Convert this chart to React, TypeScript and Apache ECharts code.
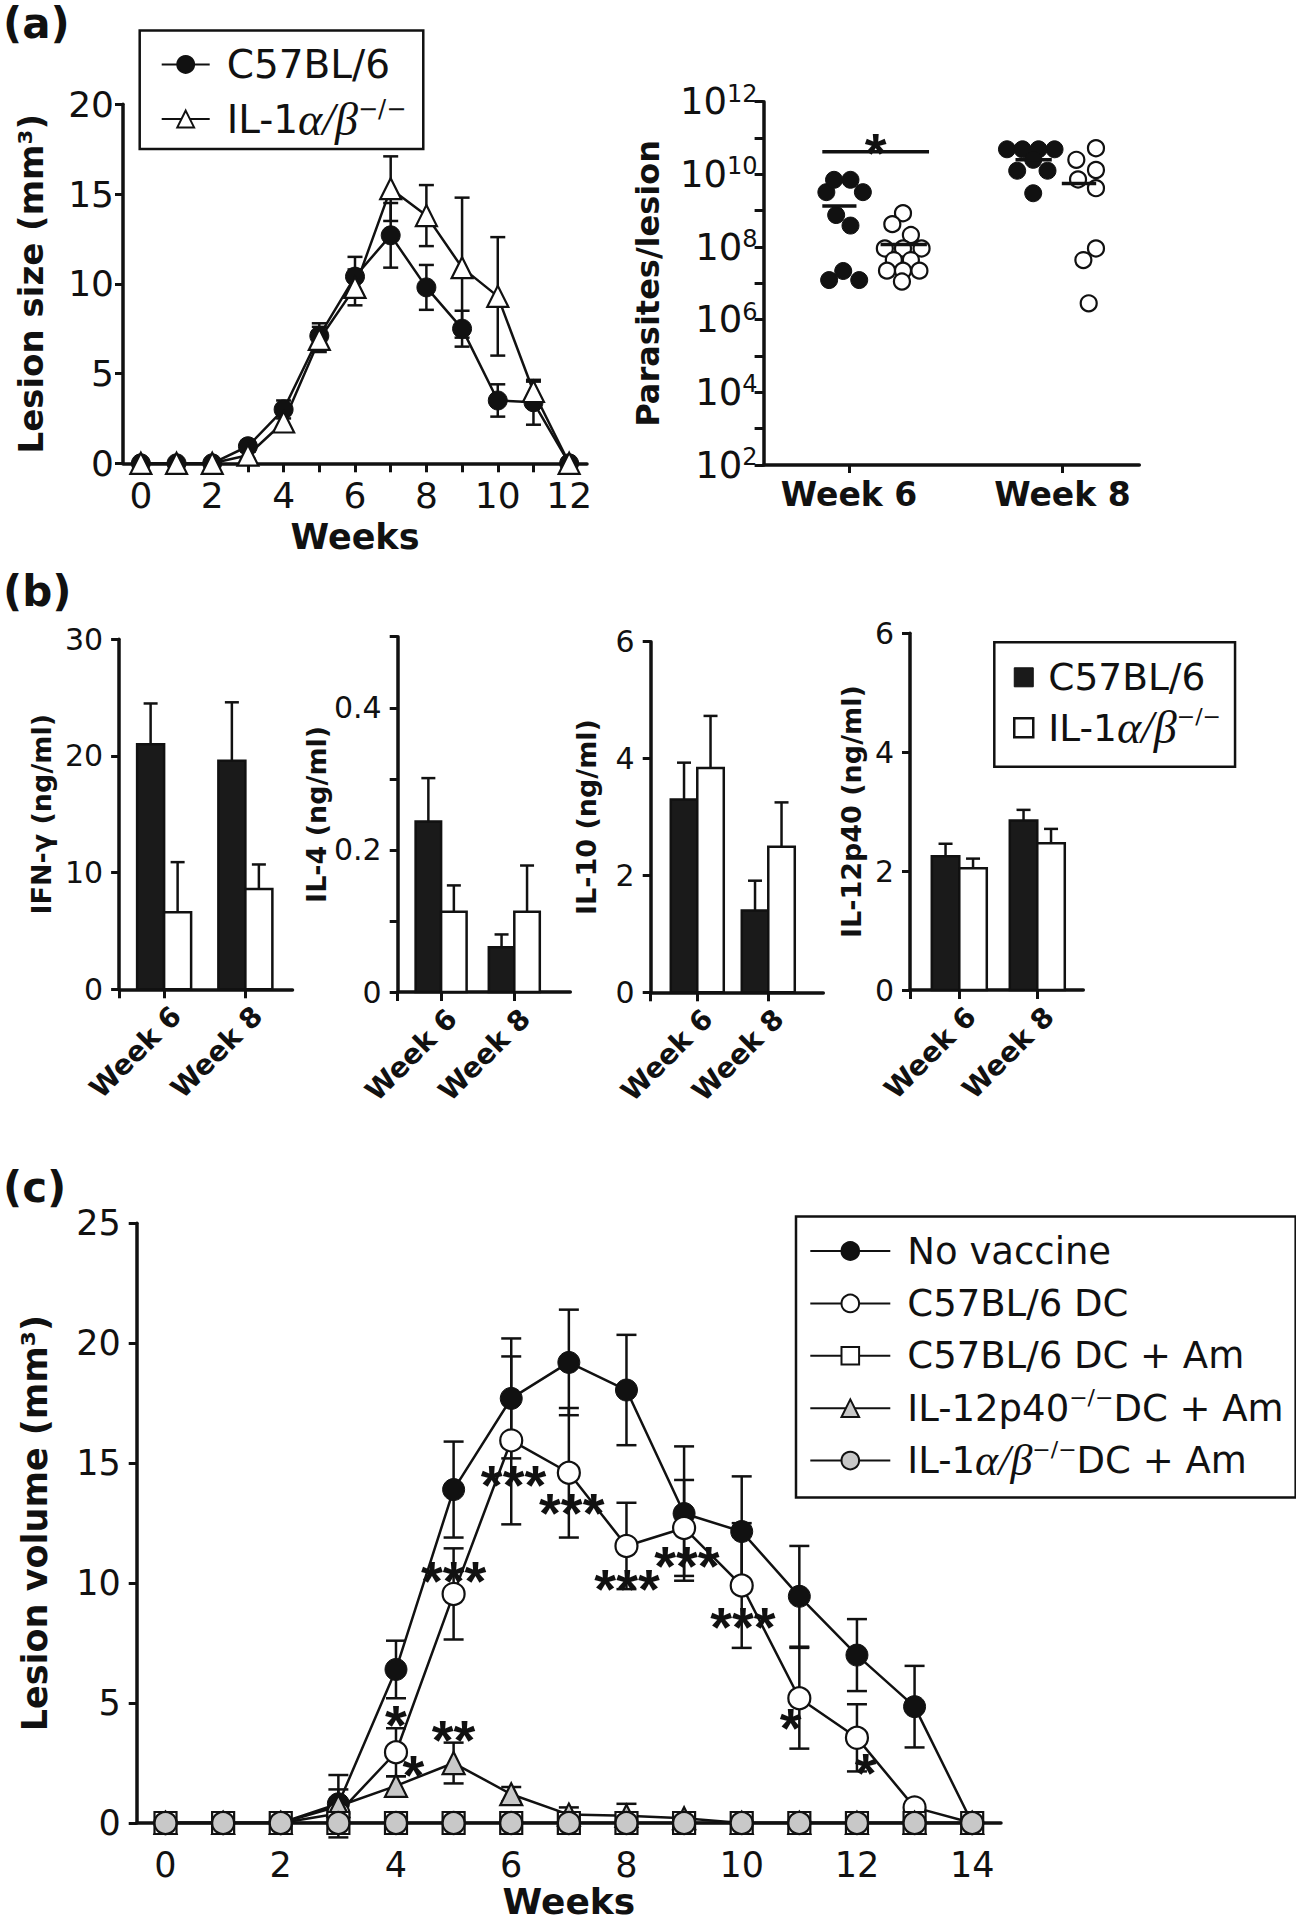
import React, { useEffect, useRef } from 'react';
import * as echarts from 'echarts';

const FONT = '"DejaVu Sans", "Liberation Sans", Arial, sans-serif';
const STAR_FONT = '"Liberation Sans", Arial, sans-serif';
const SERIF = '"Liberation Serif", "DejaVu Serif", serif';
const INK = '#111111';
const BAR_BLACK = '#1a1a1a';
const GRAY = '#c8c8c8';

// ---------- Panel (a) left: lesion size over weeks ----------
const weeksA = [0, 1, 2, 3, 4, 5, 6, 7, 8, 9, 10, 11, 12];
const weekLabelsA = [0, 2, 4, 6, 8, 10, 12];
const lesionC57 = [0, 0, 0, 0.95, 3.0, 7.1, 10.4, 12.7, 9.8, 7.5, 3.5, 3.4, 0];
const lesionC57Err = [0, 0, 0, 0.3, 0.5, 0.7, 1.1, 1.8, 1.25, 1.0, 0.9, 1.25, 0];
const lesionIL1 = [0, 0, 0, 0.45, 2.3, 6.9, 9.8, 15.3, 13.8, 10.9, 9.3, 4.0, 0];
const lesionIL1Err = [0, 0, 0, 0.2, 0.4, 0.7, 1.0, 1.8, 1.7, 3.9, 3.3, 0.55, 0];

// ---------- Panel (a) right: parasites / lesion (log10 values) ----------
const aRightCats = ['Week 6', 'Week 8'];
const logTickLabels = [2, 4, 6, 8, 10, 12];
const w6C57Log = [9.51, 9.85, 9.85, 9.51, 8.88, 8.59, 7.09, 7.34, 7.09];
const w6C57Jitter = [-0.106, -0.07, 0.007, 0.065, -0.06, 0.007, -0.093, -0.027, 0.048];
const w6IL1Log = [8.93, 8.63, 8.33, 7.96, 7.96, 7.96, 7.64, 7.64, 7.35, 7.35, 7.35, 7.05];
const w6IL1Jitter = [0.253, 0.203, 0.29, 0.168, 0.253, 0.34, 0.21, 0.29, 0.178, 0.253, 0.33, 0.248];
const w8C57Log = [10.69, 10.69, 10.69, 10.69, 10.4, 10.1, 10.1, 9.48];
const w8C57Jitter = [-0.26, -0.187, -0.112, -0.037, -0.137, -0.212, -0.07, -0.137];
const w8IL1Log = [10.72, 10.4, 10.12, 9.86, 9.62, 7.96, 7.64, 6.45];
const w8IL1Jitter = [0.157, 0.065, 0.157, 0.073, 0.157, 0.157, 0.098, 0.123];
const groupMeanLog = [9.13, 8.07, 10.4, 9.75];
const groupMeanFrom = [0.875, 1.148, 1.78, 1.997];
const groupMeanTo = [1.035, 1.365, 1.95, 2.158];
const sigLine = [0.875, 1.375, 10.62];
const sigStar = [1.125, 10.95];

// ---------- Panel (b): cytokines ----------
const bCats = ['Week 6', 'Week 8'];
const ifnC57 = [21.0, 19.6];
const ifnC57Err = [3.5, 5.0];
const ifnIL1 = [6.6, 8.6];
const ifnIL1Err = [4.3, 2.1];
const il4C57 = [0.24, 0.063];
const il4C57Err = [0.061, 0.018];
const il4IL1 = [0.113, 0.113];
const il4IL1Err = [0.037, 0.065];
const il10C57 = [3.3, 1.4];
const il10C57Err = [0.63, 0.51];
const il10IL1 = [3.84, 2.49];
const il10IL1Err = [0.89, 0.76];
const il12C57 = [2.25, 2.85];
const il12C57Err = [0.21, 0.18];
const il12IL1 = [2.05, 2.47];
const il12IL1Err = [0.16, 0.24];

// ---------- Panel (c): lesion volume after vaccination ----------
const weeksC = [0, 1, 2, 3, 4, 5, 6, 7, 8, 9, 10, 11, 12, 13, 14];
const weekLabelsC = [0, 2, 4, 6, 8, 10, 12, 14];
const noVaccine = [0, 0, 0, 0.8, 6.4, 13.9, 17.7, 19.2, 18.05, 12.9, 12.15, 9.45, 7.0, 4.85, 0];
const noVaccineErr = [0, 0, 0, 1.2, 1.2, 2.0, 2.5, 2.2, 2.3, 2.8, 2.3, 2.1, 1.5, 1.7, 0];
const c57DC = [0, 0, 0, 0.4, 2.95, 9.55, 15.95, 14.6, 11.55, 12.3, 9.9, 5.2, 3.55, 0.65, 0];
const c57DCErr = [0, 0, 0, 1.0, 1.0, 1.9, 3.5, 2.7, 1.8, 2.0, 2.6, 2.1, 1.4, 0, 0];
const c57DCAm = [0, 0, 0, 0, 0, 0, 0, 0, 0, 0, 0, 0, 0, 0, 0];
const il12DCAm = [0, 0, 0, 0.7, 1.55, 2.5, 1.2, 0.35, 0.3, 0.2, 0, 0, 0, 0, 0];
const il12DCAmErr = [0, 0, 0, 0, 0.4, 0.85, 0.3, 0.3, 0.5, 0.2, 0, 0, 0, 0, 0];
const il1DCAm = [0, 0, 0, 0, 0, 0, 0, 0, 0, 0, 0, 0, 0, 0, 0];
const starWeeks = [4, 4.3, 5, 5, 6.04, 7.05, 8.01, 9.05, 10.02, 10.85, 12.15];
const starLevels = [4.66, 2.58, 4.03, 10.66, 14.66, 13.49, 10.31, 11.28, 8.73, 4.52, 2.65];
const starTexts = ['*', '*', '**', '***', '***', '***', '***', '***', '***', '*', '*'];

// ---------- helpers ----------
const txt = { color: INK, fontFamily: FONT };
const lineSt = { color: INK, width: 3.5 };
const tickSt = { color: INK, width: 3 };

const legendNames: Record<string, string> = {
  'a-C57': 'C57BL/6',
  'a-IL1': 'IL-1{i|α/β}{s|−/−}',
  'b1-C57': 'C57BL/6',
  'b1-IL1': 'IL-1{i|α/β}{s|−/−}',
  'c-noVac': 'No vaccine',
  'c-c57DC': 'C57BL/6 DC',
  'c-c57Am': 'C57BL/6 DC + Am',
  'c-il12': 'IL-12p40{s|−/−}DC + Am',
  'c-il1': 'IL-1{i|α/β}{s|−/−}DC + Am',
};
function legendRich(italicSize: number, supSize: number, lh: number) {
  return {
    i: { fontFamily: SERIF, fontStyle: 'italic', fontSize: italicSize, lineHeight: lh, color: INK },
    s: { fontFamily: FONT, fontSize: supSize, lineHeight: supSize + 6, verticalAlign: 'top', color: INK },
  };
}

function errData(xs: number[], vs: number[], es: number[]) {
  const out: number[][] = [];
  xs.forEach((x, i) => {
    if (es[i] > 0) out.push([x, vs[i] - es[i], vs[i] + es[i]]);
  });
  return out;
}

function errItem(cap: number) {
  return (_p: any, api: any) => {
    const x = api.value(0);
    const lo = api.coord([x, api.value(1)]);
    const hi = api.coord([x, api.value(2)]);
    const st = { stroke: INK, lineWidth: 2.5 };
    const c = cap / 2;
    return {
      type: 'group',
      children: [
        { type: 'line', shape: { x1: lo[0], y1: lo[1], x2: hi[0], y2: hi[1] }, style: st },
        { type: 'line', shape: { x1: lo[0] - c, y1: lo[1], x2: lo[0] + c, y2: lo[1] }, style: st },
        { type: 'line', shape: { x1: hi[0] - c, y1: hi[1], x2: hi[0] + c, y2: hi[1] }, style: st },
      ],
    };
  };
}

function segItem(width: number) {
  return (_p: any, api: any) => {
    const a = api.coord([api.value(0), api.value(1)]);
    const b = api.coord([api.value(2), api.value(3)]);
    return { type: 'line', shape: { x1: a[0], y1: a[1], x2: b[0], y2: b[1] }, style: { stroke: INK, lineWidth: width } };
  };
}

function barItem(widthPx: number, side: number, fill: string) {
  return (_p: any, api: any) => {
    const x = api.value(0);
    const v = api.value(1);
    const e = api.value(2);
    const top = api.coord([x, v]);
    const base = api.coord([x, 0]);
    const et = api.coord([x, v + e]);
    const x0 = side < 0 ? top[0] - widthPx : top[0];
    const cx = x0 + widthPx / 2;
    const st = { stroke: INK, lineWidth: 2.5 };
    return {
      type: 'group',
      children: [
        { type: 'line', shape: { x1: cx, y1: top[1], x2: cx, y2: et[1] }, style: st },
        { type: 'line', shape: { x1: cx - 7, y1: et[1], x2: cx + 7, y2: et[1] }, style: st },
        { type: 'rect', shape: { x: x0, y: top[1], width: widthPx, height: base[1] - top[1] }, style: { fill, stroke: INK, lineWidth: 2.5 } },
      ],
    };
  };
}

function buildOption() {
  const grid = [
    { left: 123, top: 104.3, width: 464, height: 359 },
    { left: 763.6, top: 101.7, width: 375.7, height: 363.3 },
    { left: 119.1, top: 639.3, width: 173.4, height: 350 },
    { left: 397.7, top: 636.7, width: 172.6, height: 355.3 },
    { left: 650.7, top: 641.7, width: 172.6, height: 350.6 },
    { left: 910, top: 633.3, width: 173.3, height: 356.7 },
    { left: 136.7, top: 1223.3, width: 864.3, height: 602.4 },
  ];
  const xAxis: any[] = [];
  const yAxis: any[] = [];
  const series: any[] = [];

  // ----- (a) left -----
  xAxis.push({
    gridIndex: 0, type: 'value', min: -0.5, max: 12.5,
    axisLine: { show: true, onZero: false, lineStyle: lineSt },
    axisTick: { show: true, length: 9, lineStyle: tickSt, customValues: weeksA },
    axisLabel: { show: true, customValues: weekLabelsA, margin: 14, fontSize: 36, ...txt },
    splitLine: { show: false },
    name: 'Weeks', nameLocation: 'middle', nameGap: 56,
    nameTextStyle: { fontSize: 35, fontWeight: 'bold', ...txt },
  });
  yAxis.push({
    gridIndex: 0, type: 'value', min: 0, max: 20, interval: 5,
    axisLine: { show: true, onZero: false, lineStyle: lineSt },
    axisTick: { show: true, length: 8, lineStyle: tickSt },
    axisLabel: { margin: 9, fontSize: 36, ...txt },
    splitLine: { show: false },
    name: 'Lesion size (mm³)', nameLocation: 'middle', nameGap: 75,
    nameTextStyle: { fontSize: 34, fontWeight: 'bold', ...txt },
  });
  series.push({
    type: 'custom', name: 'a-err', xAxisIndex: 0, yAxisIndex: 0, z: 1, silent: true,
    renderItem: errItem(15), encode: { x: 0, y: [1, 2] },
    data: errData(weeksA, lesionC57, lesionC57Err).concat(errData(weeksA, lesionIL1, lesionIL1Err)),
  });
  series.push({
    type: 'line', name: 'a-C57', xAxisIndex: 0, yAxisIndex: 0, z: 3, silent: true,
    data: weeksA.map((w, i) => [w, lesionC57[i]]),
    symbol: 'circle', symbolSize: 19,
    lineStyle: { color: INK, width: 2.5 },
    itemStyle: { color: INK, borderColor: INK, borderWidth: 1, opacity: 1 },
  });
  series.push({
    type: 'line', name: 'a-IL1', xAxisIndex: 0, yAxisIndex: 0, z: 3, silent: true,
    data: weeksA.map((w, i) => [w, lesionIL1[i]]),
    symbol: 'triangle', symbolSize: 21,
    lineStyle: { color: INK, width: 2.5 },
    itemStyle: { color: '#ffffff', borderColor: INK, borderWidth: 2.2, opacity: 1 },
  });

  // ----- (a) right -----
  xAxis.push({
    gridIndex: 1, type: 'value', min: 0.6, max: 2.36,
    axisLine: { show: true, onZero: false, lineStyle: lineSt },
    axisTick: { show: true, length: 8, lineStyle: tickSt, customValues: [1, 2] },
    axisLabel: {
      show: true, customValues: [1, 2], margin: 13, fontSize: 33, fontWeight: 'bold', ...txt,
      formatter: (v: number) => aRightCats[Math.round(v) - 1] || '',
    },
    splitLine: { show: false },
  });
  yAxis.push({
    gridIndex: 1, type: 'value', min: 2, max: 12, interval: 1,
    axisLine: { show: true, onZero: false, lineStyle: lineSt },
    axisTick: { show: true, length: 9, lineStyle: tickSt },
    axisLabel: {
      margin: 6, ...txt,
      formatter: (v: number) => {
        const n = Math.round(v);
        return logTickLabels.includes(n) ? `{b|10}{s|${n}}` : '';
      },
      rich: {
        b: { fontSize: 37, lineHeight: 40, fontFamily: FONT, color: INK },
        s: { fontSize: 24, lineHeight: 24, verticalAlign: 'top', fontFamily: FONT, color: INK },
      },
    },
    splitLine: { show: false },
    name: 'Parasites/lesion', nameLocation: 'middle', nameGap: 100,
    nameTextStyle: { fontSize: 32, fontWeight: 'bold', ...txt },
  });
  const filledPts = { symbol: 'circle', symbolSize: 17, itemStyle: { color: INK, borderColor: INK, borderWidth: 1, opacity: 1 } };
  const openPts = { symbol: 'circle', symbolSize: 16, itemStyle: { color: '#ffffff', borderColor: INK, borderWidth: 2.2, opacity: 1 } };
  series.push({
    type: 'scatter', name: 'ar-w6c57', xAxisIndex: 1, yAxisIndex: 1, z: 3, silent: true, ...filledPts,
    data: w6C57Log.map((v, i) => [1 + w6C57Jitter[i], v]),
  });
  series.push({
    type: 'scatter', name: 'ar-w6il1', xAxisIndex: 1, yAxisIndex: 1, z: 3, silent: true, ...openPts,
    data: w6IL1Log.map((v, i) => [1 + w6IL1Jitter[i], v]),
  });
  series.push({
    type: 'scatter', name: 'ar-w8c57', xAxisIndex: 1, yAxisIndex: 1, z: 3, silent: true, ...filledPts,
    data: w8C57Log.map((v, i) => [2 + w8C57Jitter[i], v]),
  });
  series.push({
    type: 'scatter', name: 'ar-w8il1', xAxisIndex: 1, yAxisIndex: 1, z: 3, silent: true, ...openPts,
    data: w8IL1Log.map((v, i) => [2 + w8IL1Jitter[i], v]),
  });
  series.push({
    type: 'custom', name: 'ar-means', xAxisIndex: 1, yAxisIndex: 1, z: 4, silent: true,
    renderItem: segItem(3.5), encode: { x: [0, 2], y: [1, 3] },
    data: groupMeanLog.map((m, i) => [groupMeanFrom[i], m, groupMeanTo[i], m]).concat([[sigLine[0], sigLine[2], sigLine[1], sigLine[2]]]),
  });
  const starLabel = {
    show: true, position: 'inside', formatter: '{b}', fontSize: 56, fontWeight: 'bold',
    offset: [0, 13], color: INK, opacity: 1, fontFamily: STAR_FONT, textBorderWidth: 0,
  };
  series.push({
    type: 'scatter', name: 'ar-star', xAxisIndex: 1, yAxisIndex: 1, z: 5, silent: true,
    symbolSize: 1, itemStyle: { color: 'rgba(0,0,0,0)', opacity: 1 },
    label: starLabel,
    data: [{ name: '*', value: sigStar }],
  });

  // ----- (b) -----
  const bPanels = [
    { g: 2, key: 'b1', name: 'IFN-γ (ng/ml)', max: 30, interval: 10, xMin: 0.446, xMax: 2.58, barW: 27, gap: 64, c57: ifnC57, c57e: ifnC57Err, il1: ifnIL1, il1e: ifnIL1Err },
    { g: 3, key: 'b2', name: 'IL-4 (ng/ml)', max: 0.5, interval: 0.1, xMin: 0.407, xMax: 2.765, barW: 25.5, gap: 67, c57: il4C57, c57e: il4C57Err, il1: il4IL1, il1e: il4IL1Err },
    { g: 4, key: 'b3', name: 'IL-10 (ng/ml)', max: 6, interval: 2, xMin: 0.344, xMax: 2.775, barW: 26.5, gap: 51, c57: il10C57, c57e: il10C57Err, il1: il10IL1, il1e: il10IL1Err },
    { g: 5, key: 'b4', name: 'IL-12p40 (ng/ml)', max: 6, interval: 2, xMin: 0.368, xMax: 2.59, barW: 27.5, gap: 45, c57: il12C57, c57e: il12C57Err, il1: il12IL1, il1e: il12IL1Err },
  ];
  bPanels.forEach((p) => {
    xAxis.push({
      gridIndex: p.g, type: 'value', min: p.xMin, max: p.xMax,
      axisLine: { show: true, onZero: false, lineStyle: lineSt },
      axisTick: { show: true, length: 9, lineStyle: tickSt, customValues: [p.xMin, 1, 2] },
      axisLabel: {
        show: true, customValues: [1.15, 2.15], rotate: 45, margin: 22, fontSize: 28, fontWeight: 'bold', ...txt,
        formatter: (v: number) => bCats[Math.round(v) - 1] || '',
      },
      splitLine: { show: false },
    });
    yAxis.push({
      gridIndex: p.g, type: 'value', min: 0, max: p.max, interval: p.interval,
      axisLine: { show: true, onZero: false, lineStyle: lineSt },
      axisTick: { show: true, length: 8, lineStyle: tickSt },
      axisLabel: {
        margin: 16, fontSize: 30, ...txt,
        formatter: p.key === 'b2'
          ? (v: number) => (Math.round(v * 10) % 2 === 0 ? String(Math.round(v * 10) / 10) : '')
          : (v: number) => String(v),
      },
      splitLine: { show: false },
      name: p.name, nameLocation: 'middle', nameGap: p.gap,
      nameTextStyle: { fontSize: 27, fontWeight: 'bold', ...txt },
    });
    const ai = xAxis.length - 1;
    series.push({
      type: 'custom', name: p.key + '-C57', xAxisIndex: ai, yAxisIndex: ai, z: 2, silent: true,
      itemStyle: { color: BAR_BLACK },
      renderItem: barItem(p.barW, -1, BAR_BLACK), encode: { x: 0, y: [1, 2] },
      data: p.c57.map((v, i) => [i + 1, v, p.c57e[i]]),
    });
    series.push({
      type: 'custom', name: p.key + '-IL1', xAxisIndex: ai, yAxisIndex: ai, z: 2, silent: true,
      itemStyle: { color: '#ffffff' },
      renderItem: barItem(p.barW, 1, '#ffffff'), encode: { x: 0, y: [1, 2] },
      data: p.il1.map((v, i) => [i + 1, v, p.il1e[i]]),
    });
  });

  // ----- (c) -----
  xAxis.push({
    gridIndex: 6, type: 'value', min: -0.5, max: 14.5,
    axisLine: { show: true, onZero: false, lineStyle: lineSt },
    axisTick: { show: true, length: 8, lineStyle: tickSt, customValues: weeksC },
    axisLabel: { show: true, customValues: weekLabelsC, margin: 24, fontSize: 35, ...txt },
    splitLine: { show: false },
    name: 'Weeks', nameLocation: 'middle', nameGap: 60,
    nameTextStyle: { fontSize: 36, fontWeight: 'bold', ...txt },
  });
  yAxis.push({
    gridIndex: 6, type: 'value', min: 0, max: 25, interval: 5,
    axisLine: { show: true, onZero: false, lineStyle: lineSt },
    axisTick: { show: true, length: 8, lineStyle: tickSt },
    axisLabel: { margin: 16, fontSize: 35, ...txt },
    splitLine: { show: false },
    name: 'Lesion volume (mm³)', nameLocation: 'middle', nameGap: 84,
    nameTextStyle: { fontSize: 35, fontWeight: 'bold', ...txt },
  });
  const ci = xAxis.length - 1;
  series.push({
    type: 'custom', name: 'c-err', xAxisIndex: ci, yAxisIndex: ci, z: 1, silent: true,
    renderItem: errItem(20), encode: { x: 0, y: [1, 2] },
    data: errData(weeksC, noVaccine, noVaccineErr)
      .concat(errData(weeksC, c57DC, c57DCErr))
      .concat(errData(weeksC, il12DCAm, il12DCAmErr)),
  });
  const cLine = (name: string, vals: number[], symbol: string, color: string, bw: number) => ({
    type: 'line', name, xAxisIndex: ci, yAxisIndex: ci, z: 3, silent: true,
    data: weeksC.map((w, i) => [w, vals[i]]),
    symbol, symbolSize: 22,
    lineStyle: { color: INK, width: 2.5 },
    itemStyle: { color, borderColor: INK, borderWidth: bw, opacity: 1 },
  });
  series.push(cLine('c-noVac', noVaccine, 'circle', INK, 1));
  series.push(cLine('c-c57DC', c57DC, 'circle', '#ffffff', 2.2));
  series.push(cLine('c-il12', il12DCAm, 'triangle', GRAY, 2.2));
  series.push(cLine('c-c57Am', c57DCAm, 'rect', '#ffffff', 2.2));
  series.push(cLine('c-il1', il1DCAm, 'circle', GRAY, 2.2));
  series.push({
    type: 'scatter', name: 'c-stars', xAxisIndex: ci, yAxisIndex: ci, z: 5, silent: true,
    symbolSize: 1, itemStyle: { color: 'rgba(0,0,0,0)', opacity: 1 },
    label: starLabel,
    data: starWeeks.map((w, i) => ({ name: starTexts[i], value: [w, starLevels[i]] })),
  });

  const legendBase = {
    orient: 'vertical', selectedMode: false,
    borderColor: INK, borderWidth: 2.5, borderRadius: 0,
    formatter: (n: string) => legendNames[n] || n,
  };
  const legendText = (size: number, italic: number, sup: number, pad: number) => ({
    fontSize: size, lineHeight: 44, padding: [0, 0, 0, pad], ...txt, rich: legendRich(italic, sup, 44),
  });

  return {
    animation: false,
    backgroundColor: '#ffffff',
    title: [
      { text: '(a)', left: 3, top: 2, padding: 0, textStyle: { fontSize: 42, fontWeight: 'bold', ...txt } },
      { text: '(b)', left: 3, top: 570, padding: 0, textStyle: { fontSize: 42, fontWeight: 'bold', ...txt } },
      { text: '(c)', left: 3, top: 1166, padding: 0, textStyle: { fontSize: 42, fontWeight: 'bold', ...txt } },
    ],
    legend: [
      {
        ...legendBase, left: 139.7, top: 30.4, padding: [12, 17, 7, 21],
        itemWidth: 48, itemHeight: 21, itemGap: 9.6,
        textStyle: legendText(39, 46, 24, 12),
        data: ['a-C57', 'a-IL1'],
      },
      {
        ...legendBase, left: 994.3, top: 642.3, padding: [13, 14, 16, 18.7],
        itemWidth: 19, itemHeight: 19, itemGap: 5.4,
        textStyle: legendText(37.5, 46, 22, 10),
        data: [
          { name: 'b1-C57', icon: 'rect', itemStyle: { color: BAR_BLACK, borderColor: INK, borderWidth: 1 } },
          { name: 'b1-IL1', icon: 'rect', itemStyle: { color: '#ffffff', borderColor: INK, borderWidth: 2.5 } },
        ],
      },
      {
        ...legendBase, left: 796, top: 1216.5, padding: [12.5, 12, 15, 13.3],
        itemWidth: 80, itemHeight: 22, itemGap: 8.4,
        textStyle: legendText(37, 44, 22, 12),
        data: ['c-noVac', 'c-c57DC', 'c-c57Am', 'c-il12', 'c-il1'],
      },
    ],
    grid,
    xAxis,
    yAxis,
    series,
  };
}

export default function App() {
  const ref = useRef<HTMLDivElement>(null);
  useEffect(() => {
    if (!ref.current) return;
    const chart = echarts.init(ref.current, null, { renderer: 'svg' });
    chart.setOption(buildOption() as any);
    return () => chart.dispose();
  }, []);
  return (
    <div
      ref={ref}
      style={{ position: 'absolute', left: 0, top: 0, width: 1296, height: 1920, background: '#ffffff' }}
    />
  );
}
